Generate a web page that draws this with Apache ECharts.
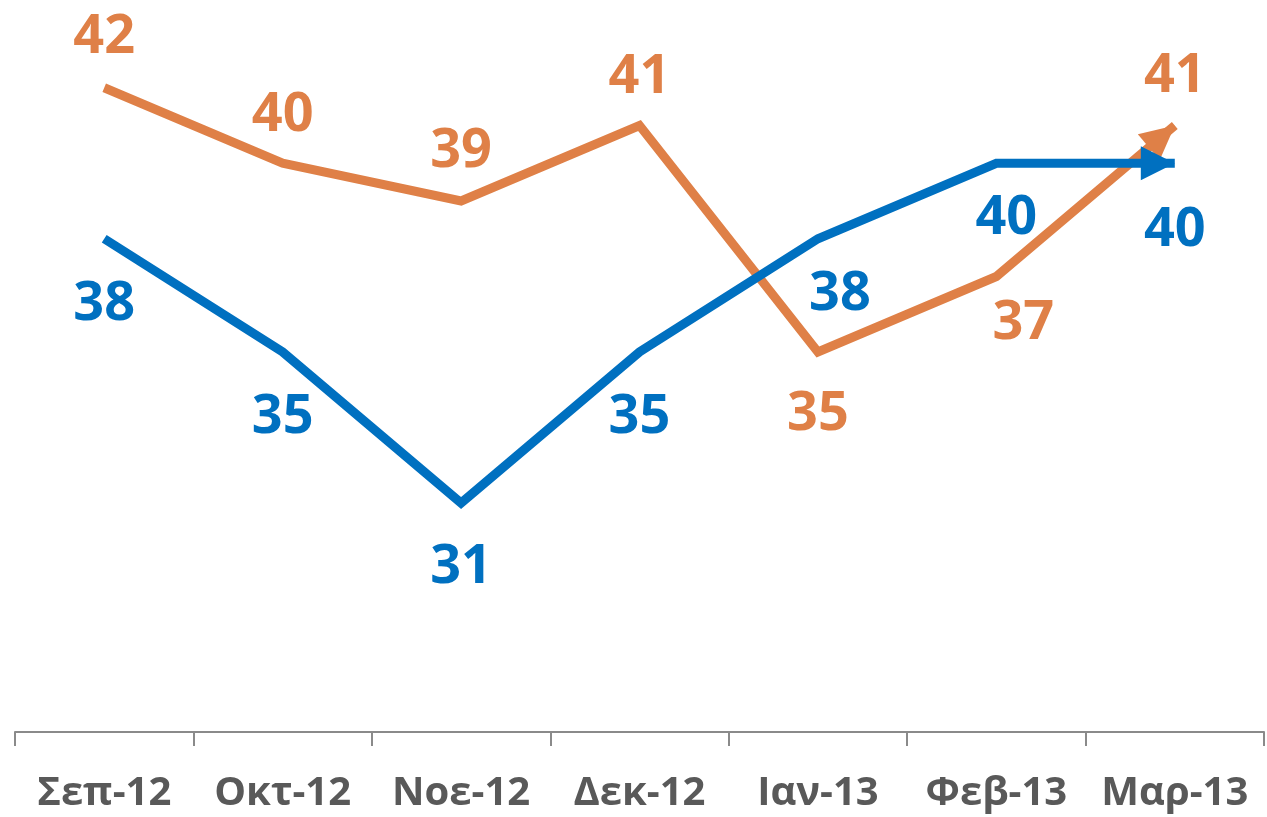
<!DOCTYPE html>
<html>
<head>
<meta charset="utf-8">
<script src="https://cdn.jsdelivr.net/npm/echarts@6/dist/echarts.min.js"></script>
<style>
  html, body { margin: 0; padding: 0; background: #fff; }
  #chart { width: 1267px; height: 817px; }
</style>
</head>
<body>
<div id="chart"></div>
<script>
// categories and values
const months = ['Σεπ-12', 'Οκτ-12', 'Νοε-12', 'Δεκ-12', 'Ιαν-13', 'Φεβ-13', 'Μαρ-13']
const orangeValues = [42, 40, 39, 41, 35, 37, 41]
const blueValues = [38, 35, 31, 35, 38, 40, 40]

// label placement per point (offset from the point, px)
const orangeLabelOffsets = [[0, -50], [0, -48], [0, -49], [0, -48], [0, 63], [27, 47], [13, -60]]
const blueLabelOffsets = [[0, 66], [0, 66], [0, 65], [0, 66], [22, 56], [10, 55], [17, 67]]

const ORANGE = '#DF8047'
const BLUE = '#0070C0'
const FONT = '"Open Sans", "Noto Sans", sans-serif'

function buildData(values, offsets, color, arrowRotate, arrowOffset) {
  return values.map((v, i) => {
    const item = {
      value: v,
      label: { offset: offsets[i] },
    }
    if (i === values.length - 1) {
      // arrow head at the end of the line
      item.symbol = 'triangle'
      item.symbolSize = [34, 34]
      item.symbolRotate = arrowRotate
      item.symbolOffset = arrowOffset
      item.itemStyle = { color }
    }
    return item
  })
}

function makeSeries(name, color, data) {
  return {
    name,
    type: 'line',
    data,
    symbol: 'circle',
    symbolSize: 1,
    showSymbol: true,
    showAllSymbol: true,
    lineStyle: { color, width: 9, join: 'miter', cap: 'butt' },
    itemStyle: { color: 'rgba(0,0,0,0)' },
    label: {
      show: true,
      position: 'inside',
      color,
      fontFamily: FONT,
      fontWeight: 'bold',
      fontSize: 54,
    },
    emphasis: { disabled: true },
    animation: false,
  }
}

const chart = echarts.init(document.getElementById('chart'))

chart.setOption({
  animation: false,
  grid: { left: 15, right: 3, top: 12.25, bottom: 87.5 },
  xAxis: {
    type: 'category',
    data: months,
    boundaryGap: true,
    offset: 2.5,
    axisLine: { lineStyle: { color: '#8a8a8a', width: 2 } },
    axisTick: { show: true, interval: 0, length: 14, lineStyle: { color: '#8a8a8a', width: 2 } },
    axisLabel: {
      interval: 0,
      color: '#595959',
      fontFamily: FONT,
      fontWeight: 'bold',
      fontSize: 40,
      margin: 42,
    },
  },
  yAxis: {
    type: 'value',
    min: 25,
    max: 44,
    show: false,
    splitLine: { show: false },
  },
  series: [
    makeSeries('orange', ORANGE, buildData(orangeValues, orangeLabelOffsets, ORANGE, -50, [-13, 10.9])),
    makeSeries('blue', BLUE, buildData(blueValues, blueLabelOffsets, BLUE, -90, [-17, 0])),
  ],
})
</script>
</body>
</html>
